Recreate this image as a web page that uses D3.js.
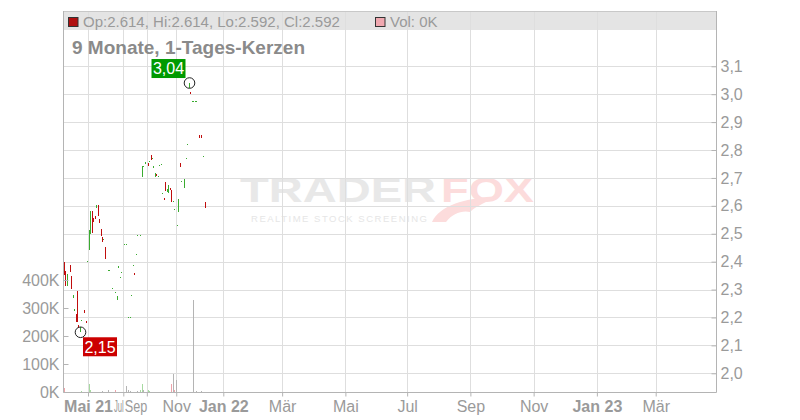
<!DOCTYPE html>
<html><head><meta charset="utf-8">
<script src="https://cdn.jsdelivr.net/npm/d3@7/dist/d3.min.js"></script>
<style>
body{margin:0;background:#fff}
svg{display:block;font-family:"Liberation Sans",Arial,sans-serif}
</style>
</head><body>
<svg id="chart" width="800" height="420"></svg>
<script>
// ---- data ----
const candleSlots = [0,1,2,4,5,6,7,8,9,10,11,12,14,15,16,17,18,19,20,21,22,23,24,25,26,27,28,30,31,33,35,36,37,38,39,41,42,44,45,46,47,48,49,50,52,53,54,55,57,58,59,60,61,62,63,64,65,66,67,68,69,70,71,72,73,74,75,77,78,79,80,82,83,84,85,86,87,88,89,90,92,93,95,96];
const opens  = [2.399,2.367,2.313,2.388,2.349,2.270,2.223,2.213,2.295,2.173,2.155,2.191,2.227,2.187,2.403,2.442,2.499,2.582,2.557,2.564,2.592,2.603,2.553,2.517,2.489,2.481,2.453,2.370,2.370,2.306,2.291,2.263,2.377,2.345,2.363,2.463,2.463,2.202,2.202,2.281,2.388,2.360,2.427,2.496,2.496,2.704,2.743,2.750,2.754,2.761,2.782,2.771,2.736,2.704,2.714,2.707,2.746,2.750,2.646,2.628,2.686,2.650,2.646,2.664,2.657,2.618,2.589,2.532,2.578,2.754,2.689,2.664,2.771,2.822,3.022,3.008,2.976,2.976,2.976,2.976,2.854,2.854,2.779,2.614];
const closes = [2.352,2.313,2.356,2.363,2.302,2.281,2.230,2.184,2.184,2.162,2.165,2.191,2.216,2.180,2.403,2.514,2.582,2.503,2.542,2.553,2.603,2.564,2.539,2.492,2.471,2.481,2.410,2.370,2.370,2.306,2.291,2.277,2.385,2.345,2.363,2.463,2.463,2.202,2.202,2.281,2.388,2.352,2.427,2.496,2.496,2.743,2.743,2.757,2.743,2.761,2.764,2.771,2.743,2.718,2.707,2.707,2.746,2.750,2.646,2.621,2.654,2.661,2.675,2.657,2.614,2.618,2.589,2.532,2.625,2.740,2.689,2.696,2.771,2.822,3.040,3.001,2.976,2.976,2.976,2.976,2.843,2.843,2.779,2.592];
const highs  = opens.map((o,i)=>Math.max(o,closes[i]));
const lows   = opens.map((o,i)=>Math.min(o,closes[i]));
lows[10] = 2.147; // intraday low of the minimum day

const volSlots  = [0,12,17,18,26,30,35,42,44,45,50,52,53,54,57,58,73,74,75,76,88,90,93];
const volValues = [15000,3000,27000,6000,4000,6000,6000,23000,7000,4000,4000,7000,27000,7000,7000,5000,30000,65000,6000,44000,330000,3000,3000];
const volDirs   = ["d","u","u","u","n","n","d","n","n","n","n","u","u","n","u","u","d","n","d","n","n","n","n"];

const priceTicks = [2.0,2.1,2.2,2.3,2.4,2.5,2.6,2.7,2.8,2.9,3.0,3.1];
const volTicks = [0,100000,200000,300000,400000];
const monthSlots  = [17,41,57,77,109,149,192,234,277,320,363,403];
const monthLabels = ["Mai 21","Jul","Sep","Nov","Jan 22","Mär","Mai","Jul","Sep","Nov","Jan 23","Mär"];
const totalSlots = 444;

const legendText = "Op:2.614, Hi:2.614, Lo:2.592, Cl:2.592";
const volLegend = "Vol: 0K";
const titleText = "9 Monate, 1-Tages-Kerzen";

// ---- layout ----
const L = 63, R = 716, T = 11, B = 392, HB = 30;
const svg = d3.select("#chart");
const x = d3.scaleLinear().domain([-0.5, totalSlots - 0.5]).range([L, R]);
const y = d3.scaleLinear().domain([1.933, 3.23]).range([B, HB]);
const v = d3.scaleLinear().domain([0, 100000]).range([B, B - 28]);

const gridC = "#dedede", axisC = "#b4b4b4", textC = "#9a9a9a";
const upC = "#3aab30", downC = "#c00d0d";
const volCol = {u:"#a6d9a0", d:"#eea3aa", n:"#b4b4b4"};

// header band
svg.append("rect").attr("x", L).attr("y", T).attr("width", R - L).attr("height", HB - T).attr("fill", "#e4e4e4");

// watermark
const wm = svg.append("g").attr("font-weight", "bold");
wm.append("text").attr("x", 240).attr("y", 202).attr("font-size", 35).attr("fill", "#e8e8e8")
  .attr("textLength", 196).attr("lengthAdjust", "spacingAndGlyphs").text("TRADER");
wm.append("text").attr("x", 441).attr("y", 202).attr("font-size", 35).attr("fill", "#fcdcdc")
  .attr("textLength", 93).attr("lengthAdjust", "spacingAndGlyphs").text("FOX");
wm.append("path").attr("d", "M432,222 C440,206 462,198 500,196 C486,202 476,206 470,212 C462,210 452,214 446,222 Z")
  .attr("fill", "#fcdcdc");
svg.append("text").attr("x", 251).attr("y", 222).attr("font-size", 9.5).attr("fill", "#e6e6e6")
  .attr("textLength", 176).attr("lengthAdjust", "spacing").text("REALTIME STOCK SCREENING");

// grid
svg.append("g").selectAll("line").data(priceTicks).join("line")
  .attr("x1", L).attr("x2", R).attr("y1", d => Math.round(y(d)) + 0.5).attr("y2", d => Math.round(y(d)) + 0.5)
  .attr("stroke", gridC);
svg.append("g").selectAll("line").data(monthSlots).join("line")
  .attr("x1", d => Math.round(x(d - 0.5)) + 0.5).attr("x2", d => Math.round(x(d - 0.5)) + 0.5)
  .attr("y1", T).attr("y2", B).attr("stroke", gridC);

// header legend
svg.append("line").attr("x1", L).attr("x2", R).attr("y1", T + 0.5).attr("y2", T + 0.5).attr("stroke", "#c8c8c8");
svg.append("rect").attr("x", 68.5).attr("y", 17.5).attr("width", 9.5).attr("height", 9).attr("fill", "#b01010").attr("stroke", "#333");
svg.append("text").attr("x", 83).attr("y", 26.5).attr("font-size", 15).attr("fill", textC).text(legendText);
svg.append("rect").attr("x", 375.5).attr("y", 17.5).attr("width", 9.5).attr("height", 9).attr("fill", "#f0a8b0").attr("stroke", "#333");
svg.append("text").attr("x", 390).attr("y", 26.5).attr("font-size", 15).attr("fill", textC).text(volLegend);

// title
svg.append("text").attr("x", 72).attr("y", 54).attr("font-size", 19).attr("font-weight", "bold").attr("fill", "#8a8a8a").text(titleText);

// volume bars
svg.append("g").attr("shape-rendering", "crispEdges").selectAll("rect").data(volSlots).join("rect")
  .attr("x", d => Math.round(x(d)) - 0.5).attr("width", 1.3)
  .attr("y", (d, i) => v(volValues[i])).attr("height", (d, i) => B - v(volValues[i]))
  .attr("fill", (d, i) => volCol[volDirs[i]]);

// candles
const cg = svg.append("g").attr("shape-rendering", "crispEdges");
candleSlots.forEach((s, i) => {
  const col = closes[i] < opens[i] ? downC : upC;
  const cx = Math.round(x(s));
  cg.append("rect").attr("x", cx).attr("width", 1)
    .attr("y", y(highs[i])).attr("height", Math.max(1, y(lows[i]) - y(highs[i])))
    .attr("fill", col);
  const top = y(Math.max(opens[i], closes[i])), bot = y(Math.min(opens[i], closes[i]));
  cg.append("rect").attr("x", cx).attr("width", 1)
    .attr("y", top).attr("height", Math.max(1, bot - top)).attr("fill", col);
});

// frame
svg.append("path").attr("d", `M${L + 0.5},${T}V${B + 0.5}H${R + 0.5}V${T}`).attr("fill", "none").attr("stroke", axisC);

// right price axis
const fmt = d => d3.format(".1f")(d).replace(".", ",");
const ya = svg.append("g").attr("transform", `translate(${R + 0.5},0)`)
  .call(d3.axisRight(y).tickValues(priceTicks).tickSize(-5).tickPadding(4).tickFormat(fmt));
// left volume axis
const va = svg.append("g").attr("transform", `translate(${L + 0.5},0)`)
  .call(d3.axisLeft(v).tickValues(volTicks).tickSize(-5).tickPadding(4).tickFormat(d => (d / 1000) + "K"));
// bottom time axis
const xa = svg.append("g").attr("transform", `translate(0,${B + 0.5})`)
  .call(d3.axisBottom(x).tickValues(monthSlots.map(s => s - 0.5)).tickSize(4).tickPadding(4).tickFormat((d, i) => monthLabels[i]));

[ya, va, xa].forEach(a => {
  a.select(".domain").remove();
  a.selectAll(".tick line").attr("stroke", axisC);
  a.selectAll(".tick text").attr("fill", textC).attr("font-size", 16).attr("font-family", '"Liberation Sans",Arial,sans-serif');
});
const tickXs = monthSlots.map(s => x(s - 0.5));
const xTexts = xa.selectAll(".tick text")
  .attr("font-weight", (d, i) => /\d/.test(monthLabels[i]) ? "bold" : "normal")
  .attr("text-anchor", (d, i) => (i < tickXs.length - 1 && tickXs[i + 1] - tickXs[i] < 31) ? "end" : "middle");
// squeeze end-anchored labels that would run into the previous label (horizontal scale about the tick)
let prevEnd = -Infinity;
xTexts.each(function(d, i) {
  const el = d3.select(this);
  const w = this.getComputedTextLength();
  if (el.attr("text-anchor") === "end") {
    const avail = tickXs[i] - prevEnd - 1;
    if (w > avail) el.attr("transform", `scale(${(avail / w).toFixed(3)},1)`);
    prevEnd = tickXs[i];
  } else {
    prevEnd = tickXs[i] + w / 2;
  }
});

// min / max markers
const iMax = d3.maxIndex(highs), iMin = d3.minIndex(lows);
const comma2 = d => d.toFixed(2).replace(".", ",");
function marker(i, val, col, above) {
  const cx = Math.round(x(candleSlots[i])) + 0.5, cy = y(val);
  svg.append("circle").attr("cx", cx).attr("cy", cy).attr("r", 5.3).attr("fill", "none").attr("stroke", "#222").attr("stroke-width", 1);
  const w = 34, h = 19;
  const bx = above ? cx - 4 - w : cx + 2.5;
  const by = above ? cy - 5 - h : cy + 5;
  svg.append("rect").attr("x", bx).attr("y", by).attr("width", w).attr("height", h).attr("fill", col);
  svg.append("text").attr("x", bx + w / 2).attr("y", by + h / 2).attr("dy", "0.36em").attr("text-anchor", "middle")
    .attr("font-size", 16).attr("fill", "#fff").text(comma2(val));
}
marker(iMax, highs[iMax], "#009a00", true);
marker(iMin, lows[iMin], "#cc0000", false);
</script>
</body></html>
